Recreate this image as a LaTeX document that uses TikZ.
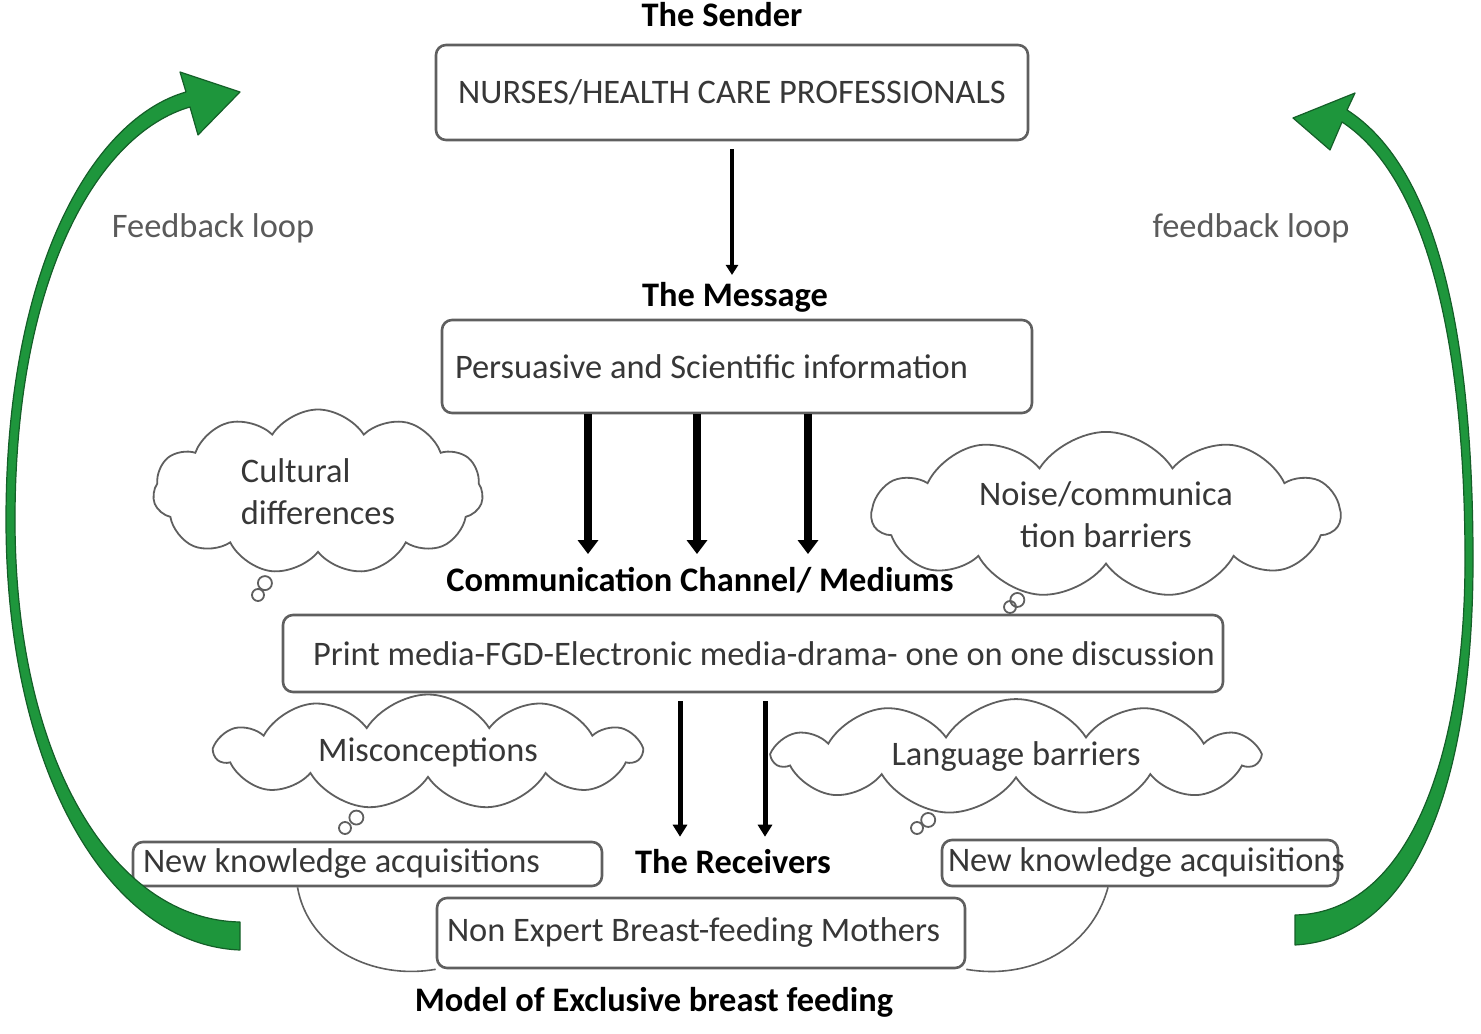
\documentclass[tikz,border=0pt]{standalone}
\usepackage{fontspec}
\setmainfont{Carlito}
\usetikzlibrary{positioning}
\usetikzlibrary{shapes.symbols,shapes.callouts}
\usetikzlibrary{arrows.meta}

\definecolor{boxgray}{RGB}{95,95,95}
\definecolor{txtgray}{RGB}{55,55,55}
\definecolor{fbgray}{RGB}{90,90,90}
\definecolor{loopgreen}{RGB}{30,150,60}
\definecolor{loopdark}{RGB}{20,95,40}

\begin{document}
\begin{tikzpicture}[x=0.5pt,y=0.5pt,
	box/.style={draw=boxgray,line width=1.3pt,rounded corners=5pt,text=txtgray,font=\fontsize{17.2}{20}\selectfont,execute at begin node={\spaceskip=0pt\xspaceskip=0pt}},
	lbl/.style={font=\bfseries\fontsize{17.2}{20}\selectfont},
	fb/.style={text=fbgray,font=\fontsize{17.2}{20}\selectfont},
	thought/.style={cloud callout,cloud puffs=11,cloud puff arc=115,cloud ignores aspect,draw=boxgray,line width=0.9pt,text=txtgray,align=center,font=\fontsize{17.2}{21}\selectfont,
		callout pointer start size=8pt,callout pointer end size=6pt,callout pointer segments=2},
	slimarrow/.style={line width=2pt,-{Triangle[length=5pt,width=6pt]}},
	fatarrow/.style={line width=4pt,-{Triangle[length=7pt,width=10pt]}},
	midarrow/.style={line width=2.5pt,-{Triangle[length=6pt,width=7pt]}},
	link/.style={draw=boxgray,line width=0.8pt},
	fbarrow/.style={fill=loopgreen,draw=loopdark,line width=0.6pt,line join=round}]

	\useasboundingbox (0,0) rectangle (1481,1033);

	\node[lbl] (snd) at (722,1018) {The Sender};
	\node[box,minimum width=296pt,minimum height=47.5pt] (s) at (732,940.5) {NURSES/HEALTH CARE PROFESSIONALS};
	\node[lbl] (msgl) at (735,736) {The Message};
	\node[box,align=left,text width=282pt,inner xsep=6.5pt,minimum height=46.5pt] (m) at (737,666.5) {Persuasive and Scientific information};
	\node[lbl] (chl) at (700,453) {Communication Channel/ Mediums};
	\node[box,align=left,text width=440pt,inner xsep=15pt,minimum height=38.5pt] (c) at (753,379.5) {\mbox{Print media-FGD-Electronic media-drama- one on one discussion}};
	\node[lbl] (recl) at (733,171) {The Receivers};
	\node[box,align=left,text width=224.5pt,inner xsep=5pt,inner ysep=2pt,minimum height=22pt] (nkl) at (367.5,169) {New knowledge acquisitions};
	\node[box,align=left,text width=192pt,inner xsep=3pt,inner ysep=2pt,minimum height=23pt] (nkr) at (1140,170) {\mbox{New knowledge acquisitions}};
	\node[box,align=left,text width=254pt,inner xsep=5pt,minimum height=35pt] (mo) at (701,100) {Non Expert Breast-feeding Mothers};
	\node[lbl] (model) at (654,31) {Model of Exclusive breast feeding};
	\node[fb] (fbl) at (213,805) {Feedback loop};
	\node[fb] (fbr) at (1251,805) {feedback loop};

	\node[thought,align=left,minimum width=165pt,minimum height=82.5pt,callout absolute pointer={(258,438)}] (cul) at (318,541) {Cultural\\differences};
	\node[thought,minimum width=234pt,minimum height=75pt,callout absolute pointer={(1010,426)}] (noi) at (1106,518) {Noise/communica\\tion barriers};
	\node[thought,minimum width=212.5pt,minimum height=57.5pt,callout absolute pointer={(345,205)}] (mis) at (428,281) {Misconceptions};
	\node[thought,minimum width=241.5pt,minimum height=57.5pt,callout absolute pointer={(917,205)}] (lan) at (1016,276) {Language barriers};

	\draw[slimarrow,shorten <=4pt] (s.south) -- (s.south |- msgl.north);
	\foreach \dx in {-149,-40,71}
		\draw[fatarrow,shorten >=3pt] ([xshift=\dx*0.5pt]m.south) -- ([xshift=\dx*0.5pt]m.south |- chl.north);
	\foreach \dx in {-73,12}
		\draw[midarrow,shorten <=4pt,shorten >=3pt] ([xshift=\dx*0.5pt]c.south) -- ([xshift=\dx*0.5pt]c.south |- recl.north);

	\draw[link] ([xshift=-35pt]nkl.south) to[out=-80,in=190] (mo.south west);
	\draw[link] ([xshift=-16pt]nkr.south) to[out=-105,in=-10] (mo.south east);

	% feedback loops
	\path[fbarrow] (240,83) .. controls (110,88) and (6,260) .. (6,513) .. controls (6,770) and (95,915) .. (186,941)
		-- (180,961) -- (240,941) -- (198,898) -- (190,926)
		.. controls (100,900) and (15,760) .. (15,513) .. controls (15,270) and (115,113) .. (240,111) -- cycle;
	\path[fbarrow] (1295,88) .. controls (1420,95) and (1473,260) .. (1473,473) .. controls (1473,720) and (1430,870) .. (1347,923)
		-- (1355,940) -- (1293,915) -- (1330,883) -- (1342,911)
		.. controls (1420,860) and (1465,710) .. (1465,473) .. controls (1465,280) and (1410,120) .. (1295,118) -- cycle;
%	\draw[link] (nkl) -- (mo);

\end{tikzpicture}
\end{document}
